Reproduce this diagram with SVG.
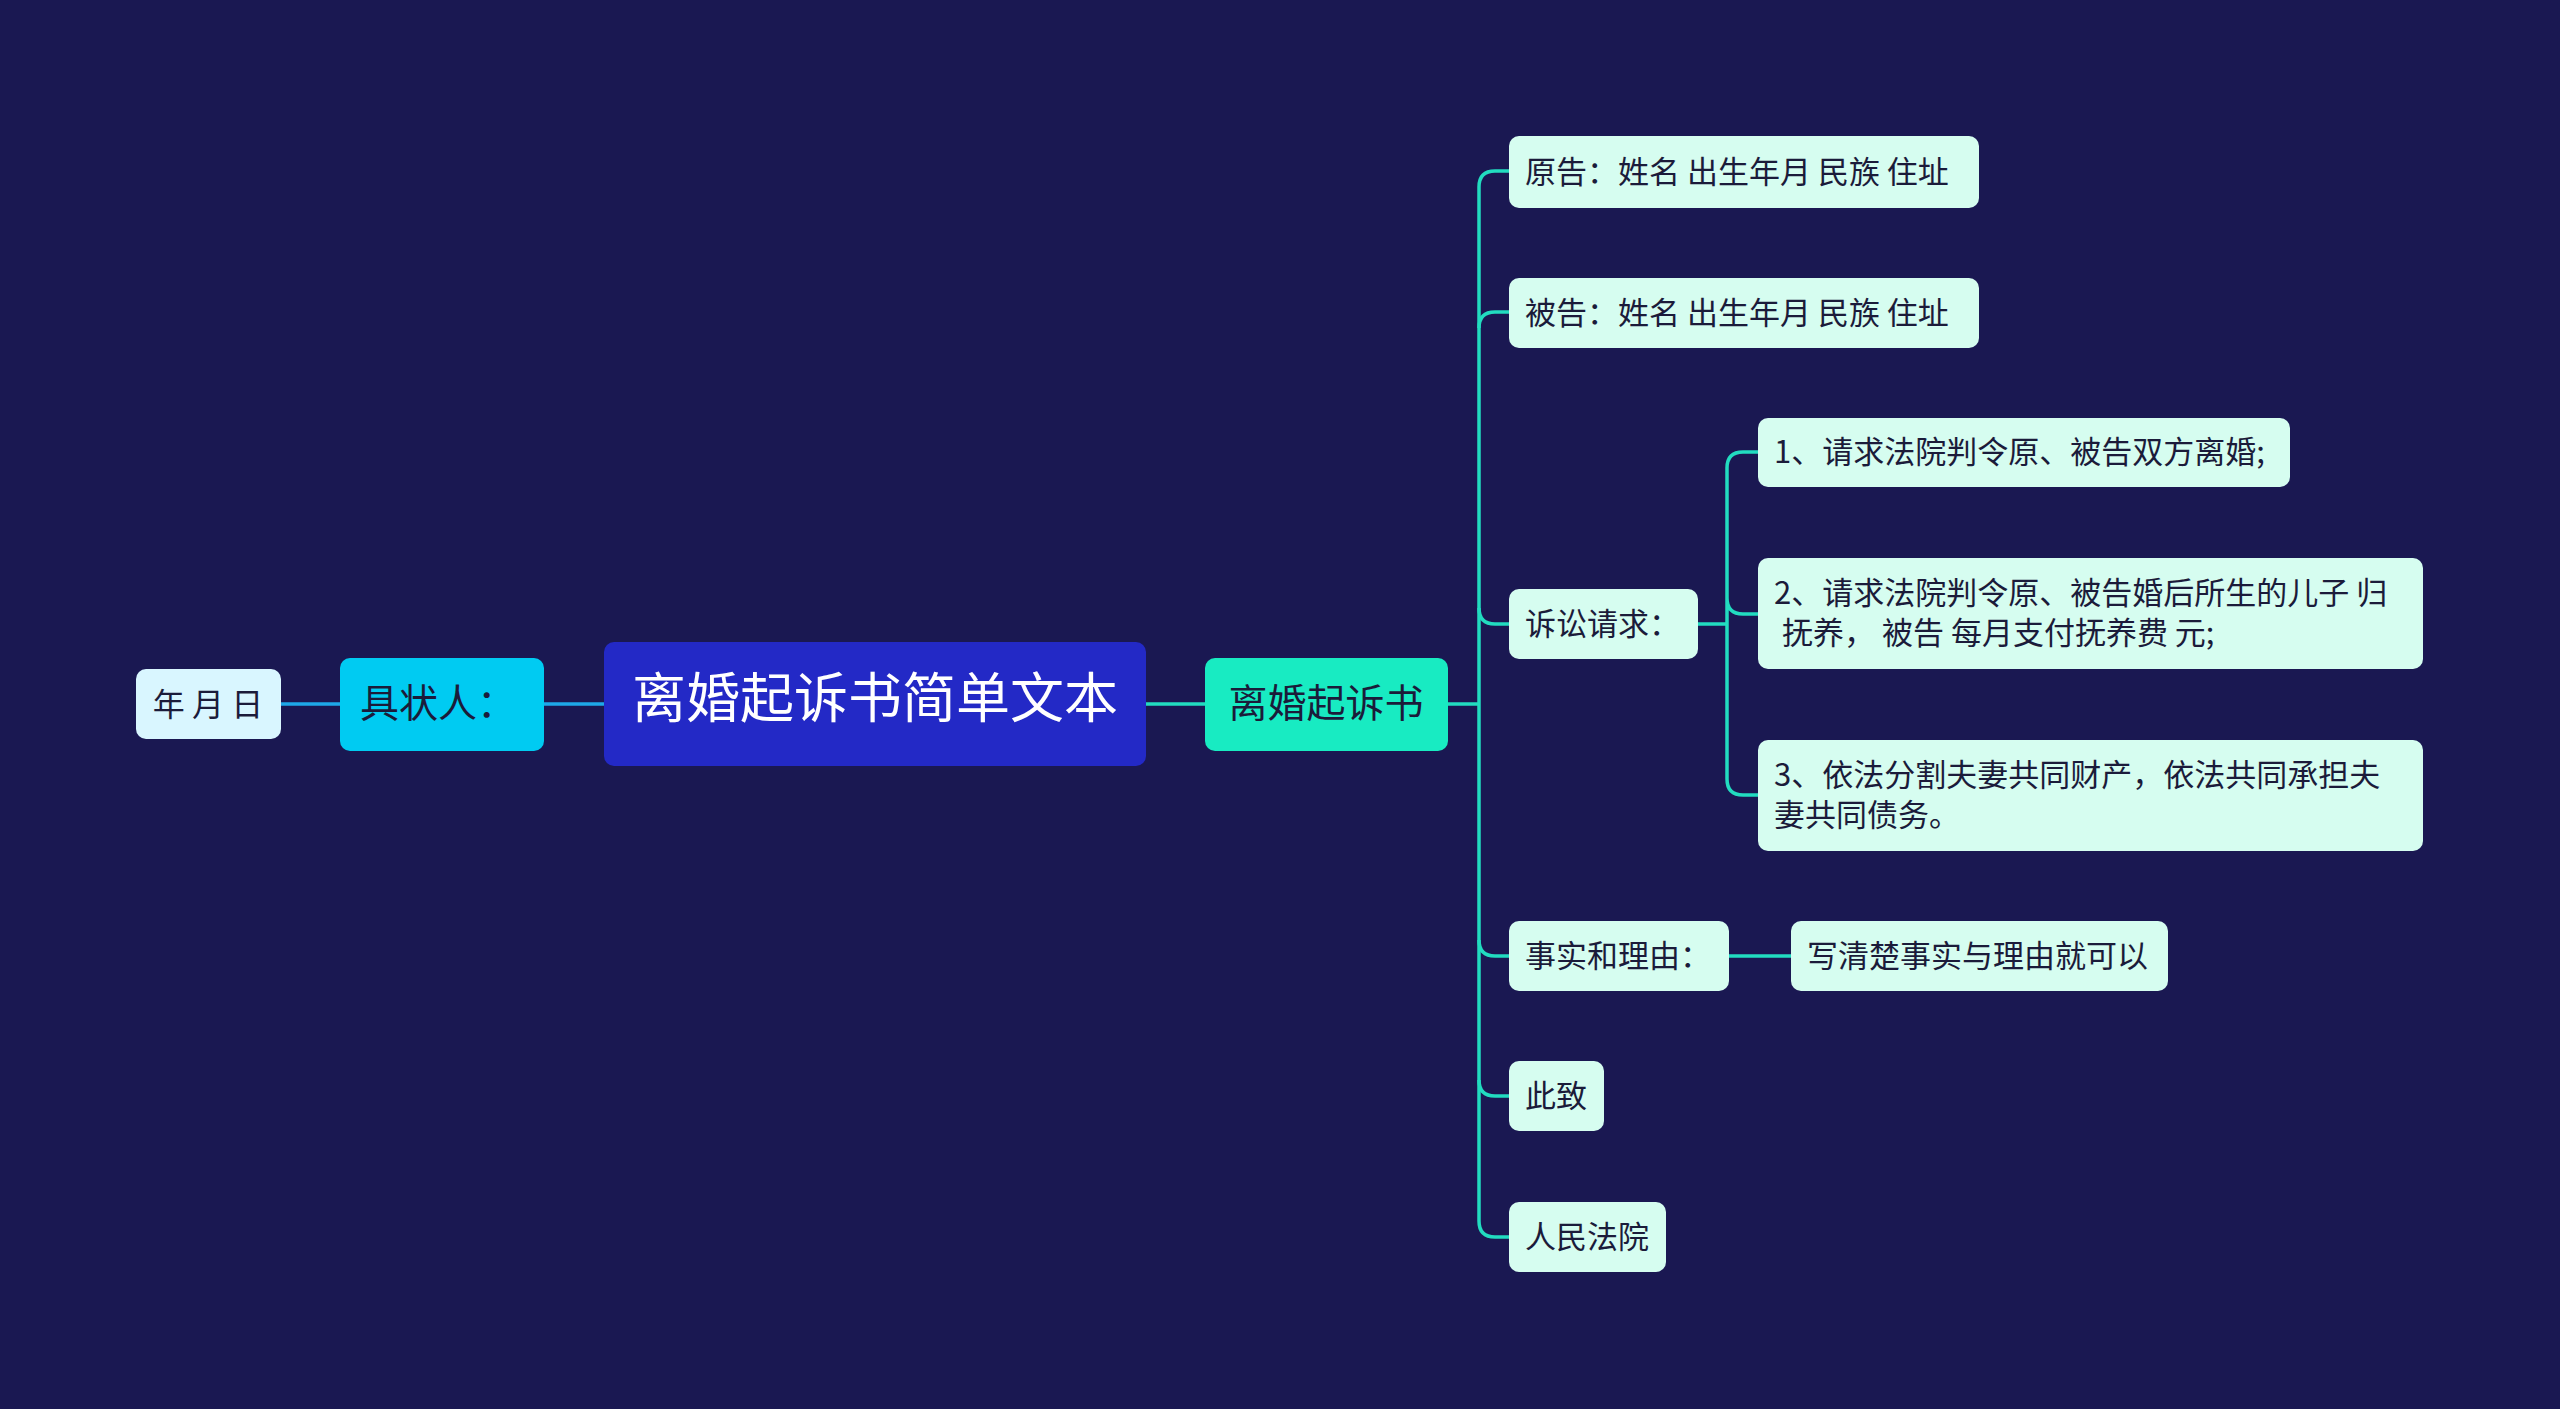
<svg xmlns="http://www.w3.org/2000/svg" width="2560" height="1409" viewBox="0 0 2560 1409">
<style>
text{font-family:"Noto Sans CJK SC","Noto Sans",sans-serif;fill:#1b1b3a}
.leaf rect{fill:#d6fdf0}
.leaf text{font-size:31px}
.c{fill:none;stroke:#22dcc0;stroke-width:3.5}
.b{fill:none;stroke:#1ea8e8;stroke-width:3.5}
</style>
<rect width="2560" height="1409" fill="#1a1852"/>
<g id="connectors">
<path class="b" d="M281 704H340M544 704H604"/>
<path class="c" d="M1146 704H1205M1448 704H1479"/>
<path class="c" d="M1509 171H1495Q1479 171 1479 187V1221Q1479 1237 1495 1237H1509"/>
<path class="c" d="M1479 328Q1479 312 1495 312H1509M1479 608Q1479 624 1495 624H1509M1479 940Q1479 956 1495 956H1509M1479 1080Q1479 1096 1495 1096H1509"/>
<path class="c" d="M1698 624H1727M1758 452H1743Q1727 452 1727 468V779Q1727 795 1743 795H1758M1727 598Q1727 614 1743 614H1758"/>
<path class="c" d="M1729 956H1791"/>
</g>
<g id="root"><rect x="604" y="642" width="542" height="124" rx="10" fill="#2329c6"/><text x="875" y="718" font-size="54" text-anchor="middle" style="fill:#fff">离婚起诉书简单文本</text></g>
<g id="jzr"><rect x="340" y="658" width="204" height="93" rx="10" fill="#00cbf2"/><text x="360" y="717" font-size="39">具状人：</text></g>
<g id="nyr"><rect x="136" y="669" width="145" height="70" rx="10" fill="#d9f6ff"/><text x="208" y="716" font-size="32" text-anchor="middle">年 月 日</text></g>
<g id="lhqss"><rect x="1205" y="658" width="243" height="93" rx="10" fill="#18ebc2"/><text x="1326" y="717" font-size="39" text-anchor="middle">离婚起诉书</text></g>
<g id="yg" class="leaf"><rect x="1509" y="136" width="470" height="72" rx="10"/><text x="1525" y="183">原告：姓名 出生年月 民族 住址</text></g>
<g id="bg" class="leaf"><rect x="1509" y="278" width="470" height="70" rx="10"/><text x="1525" y="324">被告：姓名 出生年月 民族 住址</text></g>
<g id="ssqq" class="leaf"><rect x="1509" y="589" width="189" height="70" rx="10"/><text x="1525" y="635">诉讼请求：</text></g>
<g id="q1" class="leaf"><rect x="1758" y="418" width="532" height="69" rx="10"/><text x="1774" y="463">1、请求法院判令原、被告双方离婚;</text></g>
<g id="q2" class="leaf"><rect x="1758" y="558" width="665" height="111" rx="10"/><text x="1774" y="604">2、请求法院判令原、被告婚后所生的儿子 归</text><text x="1782" y="644">抚养， 被告 每月支付抚养费 元;</text></g>
<g id="q3" class="leaf"><rect x="1758" y="740" width="665" height="111" rx="10"/><text x="1774" y="786">3、依法分割夫妻共同财产，依法共同承担夫</text><text x="1774" y="826">妻共同债务。</text></g>
<g id="ssly" class="leaf"><rect x="1509" y="921" width="220" height="70" rx="10"/><text x="1525" y="967">事实和理由：</text></g>
<g id="xqc" class="leaf"><rect x="1791" y="921" width="377" height="70" rx="10"/><text x="1807" y="967">写清楚事实与理由就可以</text></g>
<g id="cz" class="leaf"><rect x="1509" y="1061" width="95" height="70" rx="10"/><text x="1525" y="1107">此致</text></g>
<g id="rmfy" class="leaf"><rect x="1509" y="1202" width="157" height="70" rx="10"/><text x="1525" y="1248">人民法院</text></g>
</svg>
